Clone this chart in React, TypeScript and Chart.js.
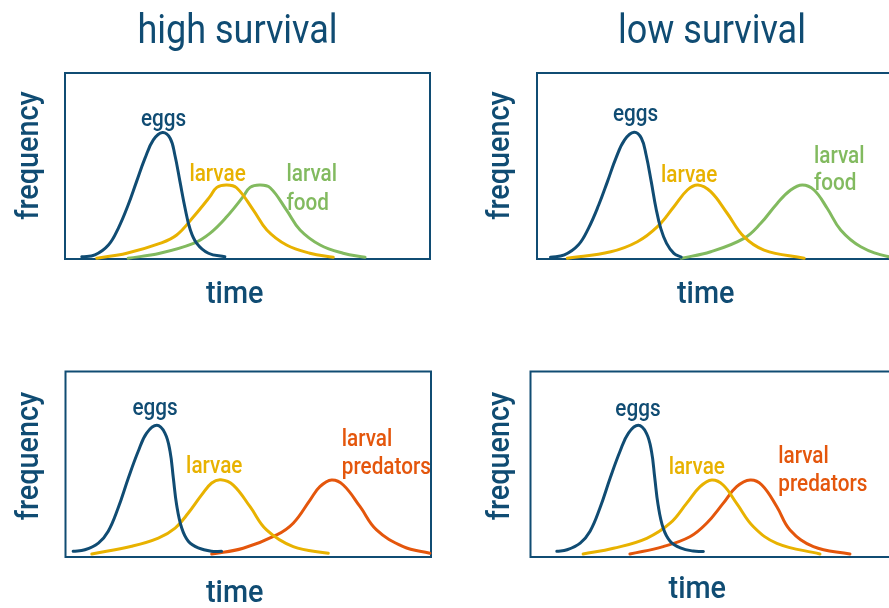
import React, { useEffect, useRef } from "react";
import { Chart, registerables } from "chart.js";

Chart.register(...registerables);

type Pt = [number, number];

// x = time (0-100 across the frame), y = frequency (0-100 up the frame)

// high survival / larval food
const hsEggs: Pt[] = [[4.6,1.2],[8.2,2.2],[11.9,7.5],[14.6,16.5],[17.3,29.0],[19.6,41.6],[21.9,54.1],[24.2,64.0],[26.7,68.0],[28.8,64.9],[30.1,55.9],[31.5,41.6],[32.9,27.3],[34.2,16.5],[36.1,8.4],[39.3,3.1],[43.8,1.2]];
const hsLarvae: Pt[] = [[8.7,0.4],[16.9,3.1],[26.0,8.4],[30.6,12.9],[35.2,22.7],[39.7,33.5],[41.6,38.5],[44.3,39.8],[47.0,38.3],[51.6,26.3],[55.3,15.6],[60.7,7.5],[67.1,3.1],[73.5,0.9]];
const hsFood: Pt[] = [[17.3,0.4],[26.0,3.1],[35.2,8.4],[39.7,13.8],[44.3,22.7],[48.8,33.5],[50.7,38.5],[53.4,39.8],[56.2,38.3],[60.7,26.3],[64.4,15.6],[69.9,7.5],[76.2,3.1],[82.2,0.9]];

// low survival / larval food
const lsEggs: Pt[] = [[3.7,0.9],[7.5,2.2],[11.3,7.5],[14.1,16.5],[16.9,29.0],[19.3,41.6],[21.6,54.1],[24.0,64.0],[26.6,68.1],[28.6,64.9],[29.9,55.9],[31.3,41.6],[32.6,27.3],[33.9,16.5],[35.5,8.4],[37.5,3.0],[39.5,1.0]];
const lsLarvae: Pt[] = [[8.3,0.4],[20.2,3.9],[27.5,9.3],[33.0,17.4],[37.5,28.1],[41.2,37.1],[44.1,39.8],[47.6,36.2],[52.1,24.6],[56.7,12.0],[62.2,4.8],[73.2,0.4]];
const lsFood: Pt[] = [[39.5,0.4],[47.6,3.9],[56.7,11.1],[61.3,19.2],[65.8,29.9],[69.5,37.1],[72.7,39.8],[75.9,37.1],[79.5,27.3],[83.2,15.6],[88.7,6.6],[96.4,1.2],[101.5,0.6]];

// high survival / larval predators
const hpEggs: Pt[] = [[2.1,3.1],[5.3,3.9],[9.0,7.5],[11.7,13.9],[14.4,26.4],[17.2,42.6],[19.9,57.0],[22.2,66.8],[25.0,71.0],[27.2,66.8],[28.6,57.0],[29.5,42.6],[30.4,28.2],[31.8,15.6],[33.6,8.5],[36.3,4.9],[40.0,3.1],[42.7,3.1]];
const hpLarvae: Pt[] = [[7.2,1.6],[18.1,5.8],[25.4,10.2],[30.0,15.6],[33.6,23.7],[37.3,33.6],[40.0,39.9],[42.5,41.6],[45.9,38.8],[50.5,27.1],[55.0,14.6],[62.3,5.6],[71.9,2.0]];
const hpPredators: Pt[] = [[40.0,1.6],[48.6,4.7],[57.8,11.9],[62.3,18.2],[66.9,30.7],[69.6,37.9],[72.8,41.5],[76.0,38.8],[80.6,27.1],[85.1,14.6],[92.4,5.6],[99.7,2.0]];

// low survival / larval predators
const lpEggs: Pt[] = [[7.2,3.1],[10.0,3.9],[13.6,7.5],[16.3,13.9],[19.0,26.4],[21.8,42.6],[24.5,57.0],[26.8,66.8],[29.5,71.0],[31.7,66.8],[33.1,57.0],[34.0,42.6],[34.9,28.2],[36.3,15.6],[38.2,8.5],[41.0,4.9],[44.5,3.2],[47.3,3.0]];
const lpLarvae: Pt[] = [[14.4,1.6],[22.7,4.7],[31.8,10.1],[38.2,18.2],[42.7,28.9],[46.4,37.9],[49.6,41.5],[52.7,38.8],[56.4,28.9],[61.0,16.3],[67.4,7.4],[79.2,1.6]];
const lpPredators: Pt[] = [[27.2,1.6],[36.3,5.6],[43.6,10.9],[48.2,18.2],[52.7,28.9],[56.4,37.9],[60.1,41.5],[63.3,38.8],[67.4,27.1],[71.0,14.6],[77.4,5.6],[87.4,1.6]];

const titles = ["high survival", "low survival"];
const xLabel = "time";
const yLabel = "frequency";

const NAVY = "#104c73";
const YELLOW = "#e8b200";
const GREEN = "#82ba5f";
const ORANGE = "#e4560c";
const FONT = 'Roboto, "Open Sans", sans-serif';
const SQUEEZE = 0.9;

type Label = { text: string; t: number; f: number; align: "left" | "center"; color: string };
type Series = { data: Pt[]; color: string };
type PanelCfg = {
  left: number; top: number; width: number; height: number;
  pad: { left: number; right: number; top: number; bottom: number };
  title?: string; titleX?: number; titleY?: number;
  freqX: number; freqY: number; timeX: number; timeY: number;
  series: Series[]; labels: Label[];
};

const panels: PanelCfg[] = [
  {
    left: 0, top: 0, width: 444, height: 320,
    pad: { left: 65, right: 14, top: 73, bottom: 61 },
    title: titles[0], titleX: 237.5, titleY: 43,
    freqX: 38, freqY: 155.5, timeX: 234.7, timeY: 303,
    series: [{ data: hsEggs, color: NAVY }, { data: hsLarvae, color: YELLOW }, { data: hsFood, color: GREEN }],
    labels: [
      { text: "eggs", t: 27.0, f: 71.5, align: "center", color: NAVY },
      { text: "larvae", t: 41.8, f: 41.9, align: "center", color: YELLOW },
      { text: "larval", t: 60.7, f: 41.7, align: "left", color: GREEN },
      { text: "food", t: 60.7, f: 26.6, align: "left", color: GREEN },
    ],
  },
  {
    left: 444, top: 0, width: 470, height: 320,
    pad: { left: 93, right: 12, top: 73, bottom: 61 },
    title: titles[1], titleX: 268, titleY: 43,
    freqX: 65, freqY: 155.5, timeX: 261.7, timeY: 303,
    series: [{ data: lsEggs, color: NAVY }, { data: lsLarvae, color: YELLOW }, { data: lsFood, color: GREEN }],
    labels: [
      { text: "eggs", t: 27.0, f: 74.2, align: "center", color: NAVY },
      { text: "larvae", t: 41.7, f: 41.6, align: "center", color: YELLOW },
      { text: "larval", t: 75.9, f: 51.5, align: "left", color: GREEN },
      { text: "food", t: 75.9, f: 37.1, align: "left", color: GREEN },
    ],
  },
  {
    left: 0, top: 320, width: 444, height: 288,
    pad: { left: 65.5, right: 13, top: 51.5, bottom: 51 },
    freqX: 38, freqY: 136, timeX: 234.7, timeY: 281.5,
    series: [{ data: hpEggs, color: NAVY }, { data: hpLarvae, color: YELLOW }, { data: hpPredators, color: ORANGE }],
    labels: [
      { text: "eggs", t: 24.5, f: 76.3, align: "center", color: NAVY },
      { text: "larvae", t: 40.7, f: 45.3, align: "center", color: YELLOW },
      { text: "larval", t: 75.6, f: 59.6, align: "left", color: ORANGE },
      { text: "predators", t: 75.6, f: 44.6, align: "left", color: ORANGE },
    ],
  },
  {
    left: 444, top: 320, width: 470, height: 288,
    pad: { left: 86.5, right: 18, top: 51.5, bottom: 51 },
    freqX: 65, freqY: 136, timeX: 253.3, timeY: 278,
    series: [{ data: lpEggs, color: NAVY }, { data: lpLarvae, color: YELLOW }, { data: lpPredators, color: ORANGE }],
    labels: [
      { text: "eggs", t: 29.4, f: 76.0, align: "center", color: NAVY },
      { text: "larvae", t: 45.5, f: 44.5, align: "center", color: YELLOW },
      { text: "larval", t: 67.8, f: 50.5, align: "left", color: ORANGE },
      { text: "predators", t: 67.8, f: 35.8, align: "left", color: ORANGE },
    ],
  },
];

function drawText(
  ctx: CanvasRenderingContext2D, s: string, x: number, y: number,
  size: number, color: string, align: "left" | "center", rotate = false, weight = 400
) {
  ctx.save();
  ctx.translate(x, y);
  if (rotate) ctx.rotate(-Math.PI / 2);
  ctx.scale(SQUEEZE, 1);
  ctx.font = `${weight} ${size}px ${FONT}`;
  ctx.fillStyle = color;
  ctx.textAlign = align;
  ctx.textBaseline = "alphabetic";
  ctx.fillText(s, 0, 0);
  ctx.restore();
}

function Panel({ cfg }: { cfg: PanelCfg }) {
  const ref = useRef<HTMLCanvasElement | null>(null);
  useEffect(() => {
    if (!ref.current) return;
    const framePlugin = {
      id: "frame",
      beforeDatasetsDraw(chart: any) {
        const { ctx, chartArea: a } = chart;
        ctx.save();
        ctx.strokeStyle = NAVY;
        ctx.lineWidth = 2;
        ctx.strokeRect(a.left, a.top, a.right - a.left, a.bottom - a.top);
        ctx.restore();
      },
      afterDraw(chart: any) {
        const ctx = chart.ctx as CanvasRenderingContext2D;
        const xs = chart.scales.x;
        const ys = chart.scales.y;
        if (cfg.title) drawText(ctx, cfg.title, cfg.titleX!, cfg.titleY!, 40, NAVY, "center");
        drawText(ctx, yLabel, cfg.freqX, cfg.freqY, 32, NAVY, "center", true, 500);
        drawText(ctx, xLabel, cfg.timeX, cfg.timeY, 32, NAVY, "center", false, 500);
        for (const l of cfg.labels) {
          drawText(ctx, l.text, xs.getPixelForValue(l.t), ys.getPixelForValue(l.f), 23, l.color, l.align, false, 500);
        }
      },
    };
    const chart = new Chart(ref.current, {
      type: "line",
      data: {
        datasets: cfg.series.map((s) => ({
          data: s.data.map(([x, y]) => ({ x, y })),
          borderColor: s.color,
          backgroundColor: s.color,
          borderWidth: 3,
          pointRadius: 0,
          fill: false,
          tension: 0.4,
          borderCapStyle: "round" as const,
          borderJoinStyle: "round" as const,
          clip: false as any,
        })),
      },
      options: {
        animation: false,
        responsive: false,
        devicePixelRatio: 1,
        layout: { padding: cfg.pad },
        scales: {
          x: { type: "linear", min: 0, max: 100, display: false },
          y: { type: "linear", min: 0, max: 100, display: false },
        },
        plugins: { legend: { display: false }, tooltip: { enabled: false }, title: { display: false } },
        events: [],
      },
      plugins: [framePlugin],
    });
    return () => chart.destroy();
  }, [cfg]);
  return (
    <canvas
      ref={ref}
      width={cfg.width}
      height={cfg.height}
      style={{ position: "absolute", left: cfg.left, top: cfg.top, width: cfg.width, height: cfg.height }}
    />
  );
}

export default function App() {
  return (
    <div
      style={{
        position: "fixed", left: 0, top: 0, width: 889, height: 608,
        overflow: "hidden", background: "#ffffff",
      }}
    >
      {panels.map((p, i) => (
        <Panel key={i} cfg={p} />
      ))}
    </div>
  );
}
